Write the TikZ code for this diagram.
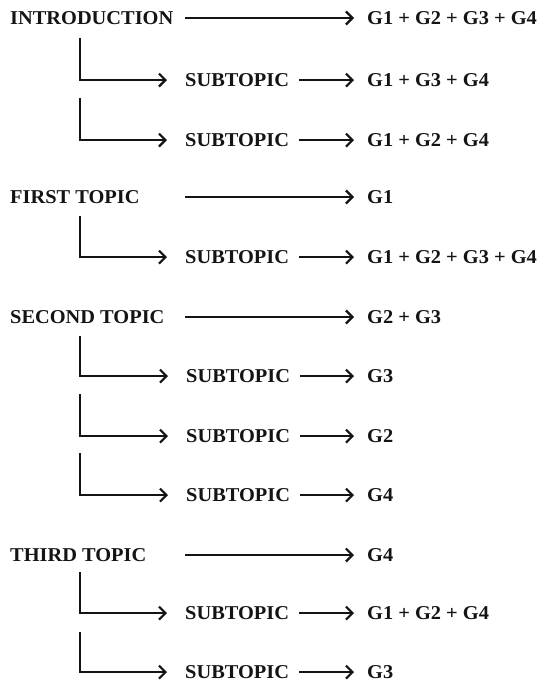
\documentclass[tikz,border=0pt]{standalone}
\usepackage{fontspec}
\newfontfamily\labelfont{Liberation Serif Bold}[FakeStretch=1.04]
\usetikzlibrary{arrows.meta}
\begin{document}
\begin{tikzpicture}[x=1pt,y=-1pt,
  lbl/.style={anchor=base west,inner sep=0pt,text=black!92,
    font=\labelfont\fontsize{19.6}{22}\selectfont},
  sublbl/.style={lbl,text width=107pt,align=left},
  tip/.style={-{Straight Barb[length=6.5pt,width=13pt,line width=2.2pt]}},
  link/.style={line width=2.2pt,black!92,tip,shorten >=13pt},
  branch/.style={line width=2.2pt,black!92,tip,shorten >=18pt},
  side/.style={link,shorten <=7pt},
]
\useasboundingbox[fill=white] (0,0) rectangle (544,687);

% INTRODUCTION
\node[lbl] (intro) at (10,24.5) {INTRODUCTION};
\node[lbl] (gintro) at (367,24.5) {G1 + G2 + G3 + G4};
\coordinate (tintro) at (185,18);
\draw[link] (tintro) -- (tintro -| gintro.west);

\node[sublbl] (ia) at (185,86.5) {SUBTOPIC};
\node[lbl] (gia) at (367,86.5) {G1 + G3 + G4};
\coordinate (via) at (80,38);
\draw[branch] (via) |- (ia.west);
\draw[side] (ia.east) -- (gia.west);

\node[sublbl] (ib) at (185,146.5) {SUBTOPIC};
\node[lbl] (gib) at (367,146.5) {G1 + G2 + G4};
\coordinate (vib) at (80,98);
\draw[branch] (vib) |- (ib.west);
\draw[side] (ib.east) -- (gib.west);

% FIRST TOPIC
\node[lbl] (first) at (10,203.5) {FIRST TOPIC};
\node[lbl] (gfirst) at (367,203.5) {G1};
\coordinate (tfirst) at (185,197);
\draw[link] (tfirst) -- (tfirst -| gfirst.west);

\node[sublbl] (fa) at (185,263.5) {SUBTOPIC};
\node[lbl] (gfa) at (367,263.5) {G1 + G2 + G3 + G4};
\coordinate (vfa) at (80,216);
\draw[branch] (vfa) |- (fa.west);
\draw[side] (fa.east) -- (gfa.west);

% SECOND TOPIC
\node[lbl] (second) at (10,323.5) {SECOND TOPIC};
\node[lbl] (gsecond) at (367,323.5) {G2 + G3};
\coordinate (tsecond) at (185,317);
\draw[link] (tsecond) -- (tsecond -| gsecond.west);

\node[sublbl] (sa) at (186,382.5) {SUBTOPIC};
\node[lbl] (gsa) at (367,382.5) {G3};
\coordinate (vsa) at (80,336);
\draw[branch] (vsa) |- (sa.west);
\draw[side] (sa.east) -- (gsa.west);

\node[sublbl] (sb) at (186,442.5) {SUBTOPIC};
\node[lbl] (gsb) at (367,442.5) {G2};
\coordinate (vsb) at (80,394);
\draw[branch] (vsb) |- (sb.west);
\draw[side] (sb.east) -- (gsb.west);

\node[sublbl] (sc) at (186,501.5) {SUBTOPIC};
\node[lbl] (gsc) at (367,501.5) {G4};
\coordinate (vsc) at (80,453);
\draw[branch] (vsc) |- (sc.west);
\draw[side] (sc.east) -- (gsc.west);

% THIRD TOPIC
\node[lbl] (third) at (10,561.5) {THIRD TOPIC};
\node[lbl] (gthird) at (367,561.5) {G4};
\coordinate (tthird) at (185,555);
\draw[link] (tthird) -- (tthird -| gthird.west);

\node[sublbl] (ta) at (185,619.5) {SUBTOPIC};
\node[lbl] (gta) at (367,619.5) {G1 + G2 + G4};
\coordinate (vta) at (80,572);
\draw[branch] (vta) |- (ta.west);
\draw[side] (ta.east) -- (gta.west);

\node[sublbl] (tb) at (185,678.5) {SUBTOPIC};
\node[lbl] (gtb) at (367,678.5) {G3};
\coordinate (vtb) at (80,632);
\draw[branch] (vtb) |- (tb.west);
\draw[side] (tb.east) -- (gtb.west);
\end{tikzpicture}
\end{document}
